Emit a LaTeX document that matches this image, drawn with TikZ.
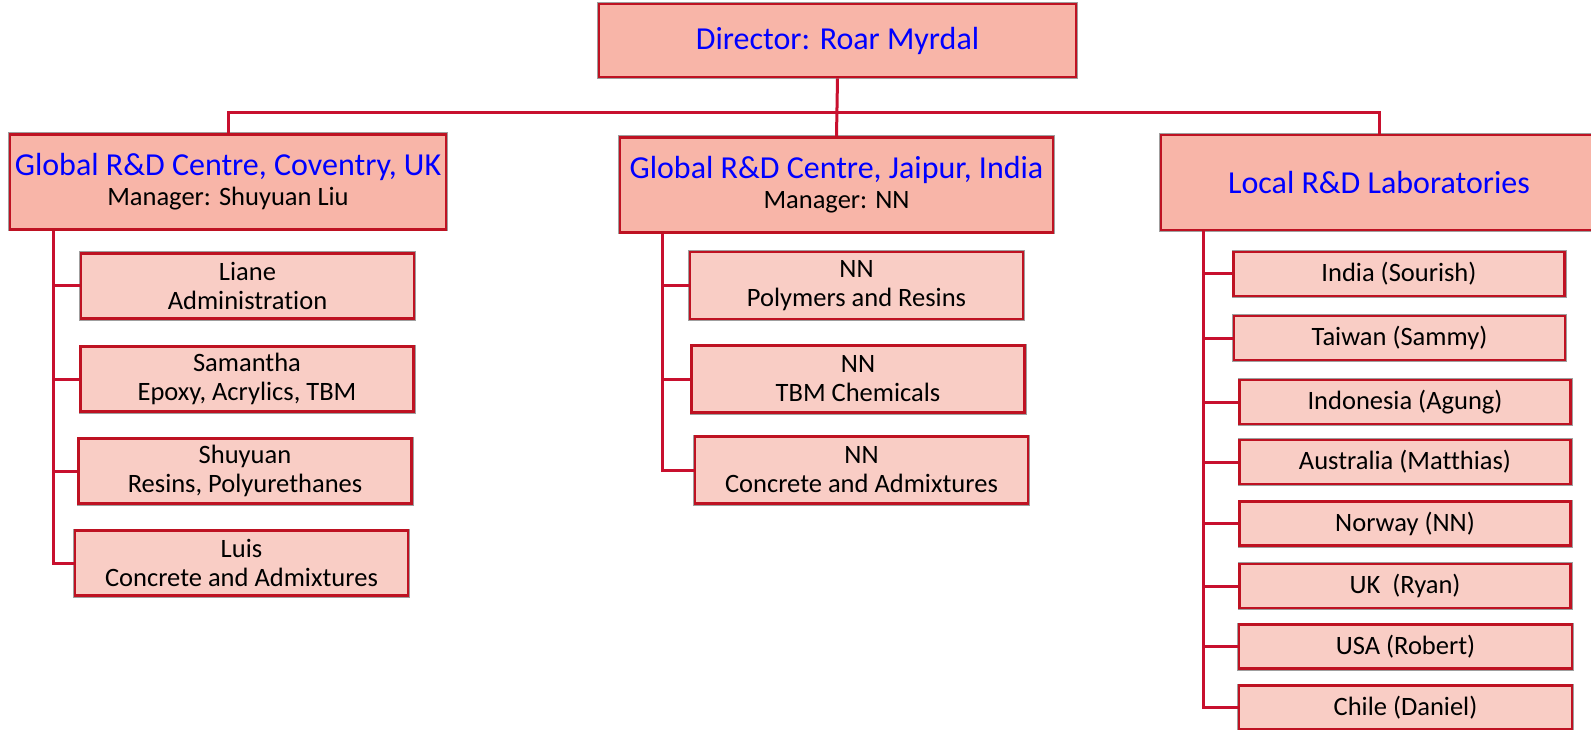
\documentclass[tikz,border=0pt]{standalone}
\usepackage{fontspec}
\setmainfont{Carlito}[Ligatures=NoCommon]
\usetikzlibrary{positioning}
\definecolor{hdfill}{RGB}{248,181,168}
\definecolor{subfill}{RGB}{249,205,197}
\definecolor{boxred}{RGB}{190,18,34}
\definecolor{linkred}{RGB}{200,16,46}
\definecolor{titleblue}{RGB}{0,0,255}
\newcommand{\headfont}{\fontsize{32}{30}\selectfont}
\newcommand{\mgrfont}{\fontsize{26.5}{29}\selectfont}
\tikzset{
  unitbox/.style={draw=boxred, line width=2.6pt, preaction={draw=gray!75, line width=4pt},
    inner sep=0pt, align=center},
  headbox/.style={unitbox, fill=hdfill, minimum width=436pt, minimum height=95pt,
    font=\headfont},
  subbox/.style={unitbox, fill=subfill, minimum width=333pt, minimum height=65pt,
    font=\mgrfont},
  labbox/.style={subbox, minimum width=331pt, minimum height=44pt},
  link/.style={draw=linkred, line width=3pt},
}

\begin{document}
\begin{tikzpicture}[x=1pt, y=-1pt]
\useasboundingbox (0,0) rectangle (1591,730);
%----- director and centres -----
\node[headbox, minimum width=477pt, minimum height=73pt] (dir) at (837.5,40.5)
  {\color{titleblue}Director: Roar Myrdal};
\node[headbox] (cov) at (228,182)
  {{\color{titleblue}Global R\&D Centre, Coventry, UK}\\{\mgrfont Manager: Shuyuan Liu}};
\node[headbox, minimum width=433pt] (jai) at (836.5,185)
  {{\color{titleblue}Global R\&D Centre, Jaipur, India}\\{\mgrfont Manager: NN}};
\node[headbox] (loc) at (1379,182.5)
  {\color{titleblue}Local R\&D Laboratories};
\coordinate (bar) at (837,113);
\draw[link] (dir.south) -- (jai.north);
\draw[link] (cov.north) |- (bar) -| (loc.north);

%----- Coventry groups -----
\node[subbox] (lia) at (247.5,286) {Liane\\Administration};
\node[subbox] (sam) at (247,379) {Samantha\\Epoxy, Acrylics, TBM};
\node[subbox] (shu) at (245,471) {Shuyuan\\Resins, Polyurethanes};
\node[subbox] (lui) at (241.5,563) {Luis\\Concrete and Admixtures};
\foreach \c in {lia,sam,shu,lui}
  \draw[link] ([xshift=45pt]cov.south west) |- (\c.west);

%----- Jaipur groups -----
\node[subbox, minimum height=67pt] (pol) at (856.5,285.5) {NN\\Polymers and Resins};
\node[subbox, minimum height=67pt] (tbm) at (858,379) {NN\\TBM Chemicals};
\node[subbox, minimum height=67pt] (con) at (861.5,470) {NN\\Concrete and Admixtures};
\foreach \c in {pol,tbm,con}
  \draw[link] ([xshift=44pt]jai.south west) |- (\c.west);

%----- local laboratories -----
\node[labbox] (ind) at (1399,274) {India (Sourish)};
\node[labbox] (tai) at (1399.5,338) {Taiwan (Sammy)};
\node[labbox] (ido) at (1405,402) {Indonesia (Agung)};
\node[labbox] (aus) at (1405,462) {Australia (Matthias)};
\node[labbox] (nor) at (1405,523.5) {Norway (NN)};
\node[labbox] (uk) at (1405,586) {UK\ \ (Ryan)};
\node[labbox, minimum width=333pt] (usa) at (1405.5,646.5) {USA (Robert)};
\node[labbox, minimum width=333pt] (chi) at (1405.5,707.5) {Chile (Daniel)};
\foreach \c in {ind,tai,ido,aus,nor,uk,usa,chi}
  \draw[link] ([xshift=44pt]loc.south west) |- (\c.west);
\end{tikzpicture}
\end{document}
